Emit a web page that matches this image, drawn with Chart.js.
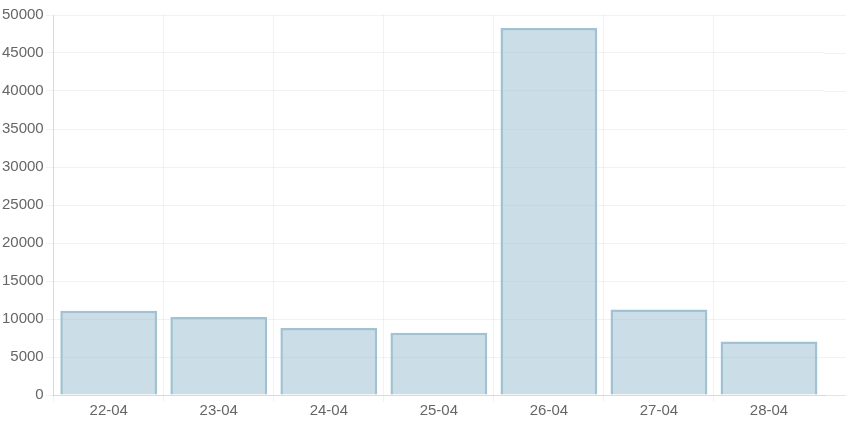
<!DOCTYPE html>
<html>
<head>
<meta charset="utf-8">
<script src="https://cdn.jsdelivr.net/npm/chart.js@4"></script>
<style>
  html, body { margin: 0; padding: 0; background: #fff; overflow: hidden; }
  #myChart { display: block; }
</style>
</head>
<body>
<canvas id="myChart" width="846" height="422"></canvas>
<script>
let days = ["22-04", "23-04", "24-04", "25-04", "26-04", "27-04", "28-04"];
let totals = [11100, 10250, 8800, 8200, 48300, 11250, 7050];
let yTicks = [0, 5000, 10000, 15000, 20000, 25000, 30000, 35000, 40000, 45000, 50000];

let tickFont = { family: "'Liberation Sans', Arial, sans-serif", size: 15 };

// grid lines in the reference run on to the right edge of the canvas
let gridTail = {
    id: "gridTail",
    beforeDatasetsDraw(chart) {
        let ctx = chart.ctx;
        let y = chart.scales.y;
        let right = chart.chartArea.right;
        ctx.save();
        ctx.lineWidth = 1;
        for (let v of yTicks) {
            let py = Math.round(y.getPixelForValue(v)) + 0.5;
            ctx.strokeStyle = v === 0 ? "rgba(0,0,0,0.1)" : "rgba(0,0,0,0.05)";
            ctx.beginPath();
            ctx.moveTo(right, py);
            ctx.lineTo(chart.width, py);
            ctx.stroke();
        }
        ctx.restore();
    }
};

let data = {
    labels: days,
    datasets: [
        {
            label: "total",
            data: totals,
            backgroundColor: "rgba(151,187,205,0.5)",
            borderColor: "rgba(151,187,205,0.9)",
            borderWidth: 2.5,
            borderSkipped: "bottom",
            categoryPercentage: 1,
            barPercentage: 0.88
        }
    ]
};

let config = {
    type: "bar",
    data: data,
    plugins: [gridTail],
    options: {
        responsive: false,
        animation: false,
        layout: { padding: { top: 15, right: 22, left: 0, bottom: 2 } },
        plugins: {
            legend: { display: false },
            tooltip: { enabled: false }
        },
        scales: {
            x: {
                grid: {
                    color: c => c.tick ? "rgba(0,0,0,0.05)" : "rgba(0,0,0,0)",
                    tickLength: 7
                },
                border: { color: "rgba(0,0,0,0.1)" },
                ticks: { color: "#666", font: tickFont, padding: 0 }
            },
            y: {
                min: 0,
                max: 50000,
                afterBuildTicks: axis => { axis.ticks = yTicks.map(v => ({ value: v })); },
                grid: { color: "rgba(0,0,0,0.05)", tickLength: 8 },
                border: { color: "rgba(0,0,0,0.1)" },
                ticks: { color: "#666", font: tickFont, padding: 2, callback: v => String(v) }
            }
        }
    }
};

let myChart = new Chart(document.getElementById("myChart"), config);
</script>
</body>
</html>
